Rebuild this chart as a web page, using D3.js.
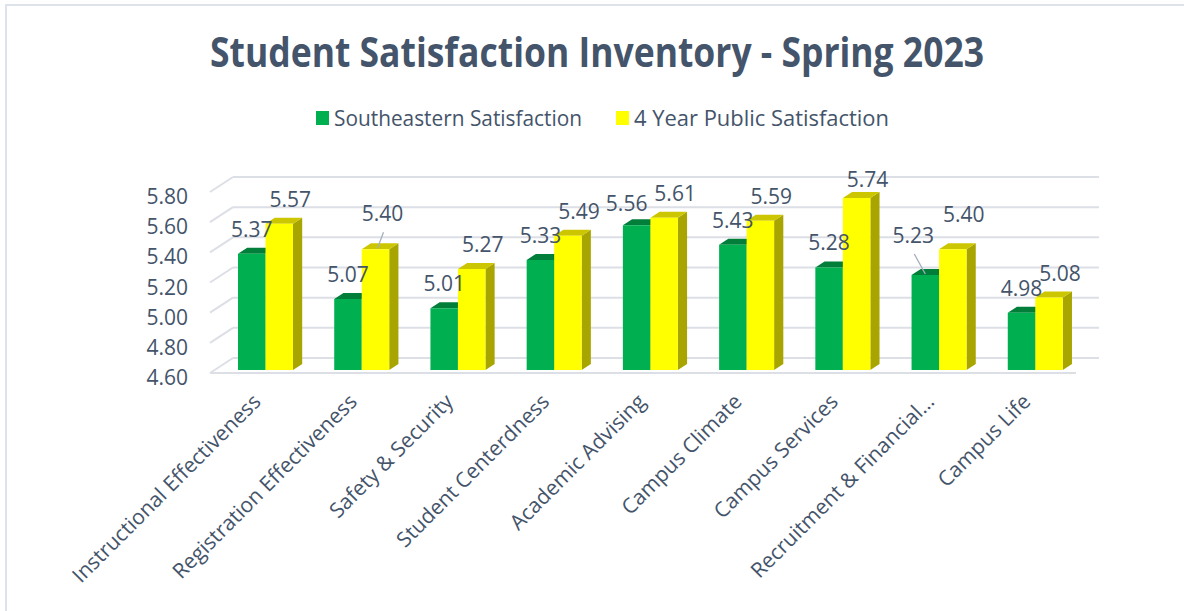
<!DOCTYPE html>
<html>
<head>
<meta charset="utf-8">
<script src="https://cdn.jsdelivr.net/npm/d3@7"></script>
<style>
  body { margin: 0; background: #fff; }
  text { font-family: "Open Sans", sans-serif; fill: #44546A; }
</style>
</head>
<body>
<svg id="chart" width="1184" height="611"></svg>
<script>
'use strict';

// data
const categories = [
  'Instructional Effectiveness',
  'Registration Effectiveness',
  'Safety & Security',
  'Student Centerdness',
  'Academic Advising',
  'Campus Climate',
  'Campus Services',
  'Recruitment & Financial…',
  'Campus Life'
];
const seriesNames = ['Southeastern Satisfaction', '4 Year Public Satisfaction'];
const southeastern = [5.37, 5.07, 5.01, 5.33, 5.56, 5.43, 5.28, 5.23, 4.98];
const fourYearPublic = [5.57, 5.40, 5.27, 5.49, 5.61, 5.59, 5.74, 5.40, 5.08];
const yTicks = [4.6, 4.8, 5.0, 5.2, 5.4, 5.6, 5.8];

// look
const faceColors = [
  { front: '#00B050', top: '#007E3A', side: '#00803A' },
  { front: '#FFFF00', top: '#CCC600', side: '#A9A500' }
];
const gridColor = '#DCDFE6';

// hand-placed labels (like the dragged ones in the original)
const labelNudge = {
  '1|1': { dx: -4, dy: -11, leader: true },
  '0|4': { dx: -10, dy: 3 },
  '1|6': { dx: 0, dy: 6 },
  '0|7': { dx: -12, dy: -15, leader: true },
  '1|7': { dx: 0, dy: -10 }
};

const svg = d3.select('#chart');

// frame
svg.append('rect')
  .attr('x', 6).attr('y', 5)
  .attr('width', 1200).attr('height', 640)
  .attr('fill', 'none')
  .attr('stroke', '#DEE2EA')
  .attr('stroke-width', 2);

// title
svg.append('text')
  .attr('x', 597).attr('y', 67)
  .attr('text-anchor', 'middle')
  .attr('font-size', 41)
  .attr('font-weight', 700)
  .attr('textLength', 774)
  .attr('lengthAdjust', 'spacingAndGlyphs')
  .text('Student Satisfaction Inventory - Spring 2023');

// legend
const legend = svg.append('g');
const legendItems = [
  { x: 316, len: 248 },
  { x: 616, len: 255 }
];
seriesNames.forEach((name, i) => {
  let g = legend.append('g').attr('transform', `translate(${legendItems[i].x},0)`);
  g.append('rect')
    .attr('x', 0).attr('y', 111)
    .attr('width', 13).attr('height', 14)
    .attr('fill', faceColors[i].front);
  g.append('text')
    .attr('x', 18).attr('y', 125.5)
    .attr('font-size', 21)
    .attr('textLength', legendItems[i].len)
    .attr('lengthAdjust', 'spacingAndGlyphs')
    .text(name);
});

// 3d projection: x along front, value up, d = depth 0..1
const floor = { x0: 210, x1: 1076, y0: 373 };
const depth = { dx: 23, dy: -15 };

let y = d3.scaleLinear().domain([4.6, 5.8]).range([0, 181]);
let x0 = d3.scaleBand().domain(categories).range([floor.x0, floor.x1]);
let x1 = d3.scaleBand().domain([0, 1]).range([23.4, 78.4]);

function P(x, v, d) {
  return [x + d * depth.dx, floor.y0 - y(v) + d * depth.dy];
}

// gridlines: back wall + left side diagonals
let grid = svg.append('g')
  .attr('stroke', gridColor)
  .attr('stroke-width', 2)
  .attr('fill', 'none');

yTicks.forEach(v => {
  grid.append('path').attr('d', d3.line()([P(floor.x0, v, 1), P(floor.x1, v, 1)]));
  grid.append('path').attr('d', d3.line()([P(floor.x0, v, 0), P(floor.x0, v, 1)]));
});
grid.append('path').attr('d', d3.line()([P(floor.x0, 4.6, 0), P(floor.x1, 4.6, 0)]));

// y axis labels
svg.append('g')
  .selectAll('text')
  .data(yTicks)
  .join('text')
  .attr('x', 188)
  .attr('y', d => P(0, d, 0)[1] + 12)
  .attr('text-anchor', 'end')
  .attr('font-size', 21)
  .text(d => d3.format('.2f')(d));

// bars
const d0 = 0.2, d1 = 0.6;
const base = y.domain()[0];
const seriesValues = [southeastern, fourYearPublic];
let bars = svg.append('g');
let poly = pts => 'M' + pts.map(p => p.join(',')).join('L') + 'Z';

let barInfo = [];
categories.forEach((cat, ci) => {
  seriesValues.forEach((vals, si) => {
    let v = vals[ci];
    let xl = x0(cat) + x1(si);
    let xr = xl + x1.bandwidth();
    let c = faceColors[si];
    bars.append('path')
      .attr('d', poly([P(xr, base, d0), P(xr, v, d0), P(xr, v, d1), P(xr, base, d1)]))
      .attr('fill', c.side);
    bars.append('path')
      .attr('d', poly([P(xl, v, d0), P(xr, v, d0), P(xr, v, d1), P(xl, v, d1)]))
      .attr('fill', c.top);
    bars.append('path')
      .attr('d', poly([P(xl, base, d0), P(xr, base, d0), P(xr, v, d0), P(xl, v, d0)]))
      .attr('fill', c.front);
    let top = P((xl + xr) / 2, v, d0);
    barInfo.push({ si, ci, v, cx: top[0], top: top[1] });
  });
});

// value labels
let labels = svg.append('g');
barInfo.forEach(b => {
  let n = labelNudge[b.si + '|' + b.ci] || { dx: 0, dy: 0 };
  let lx = b.cx + (b.si === 1 ? 11 : 0) + n.dx;
  let ly = b.top - 17 + n.dy;
  if (n.leader) {
    labels.append('line')
      .attr('x1', lx + 1).attr('y1', ly + 11)
      .attr('x2', b.cx + (b.si === 1 ? 2 : 0)).attr('y2', b.top - 1)
      .attr('stroke', '#A5AEBD')
      .attr('stroke-width', 1.3);
  }
  labels.append('text')
    .attr('x', lx).attr('y', ly)
    .attr('text-anchor', 'middle')
    .attr('font-size', 21)
    .text(d3.format('.2f')(b.v));
});

// category labels
svg.append('g')
  .selectAll('text')
  .data(categories)
  .join('text')
  .attr('transform', d => {
    let cx = x0(d) + 52;
    return `translate(${cx},${403}) rotate(-45)`;
  })
  .attr('text-anchor', 'end')
  .attr('font-size', 21)
  .text(d => d);
</script>
</body>
</html>
